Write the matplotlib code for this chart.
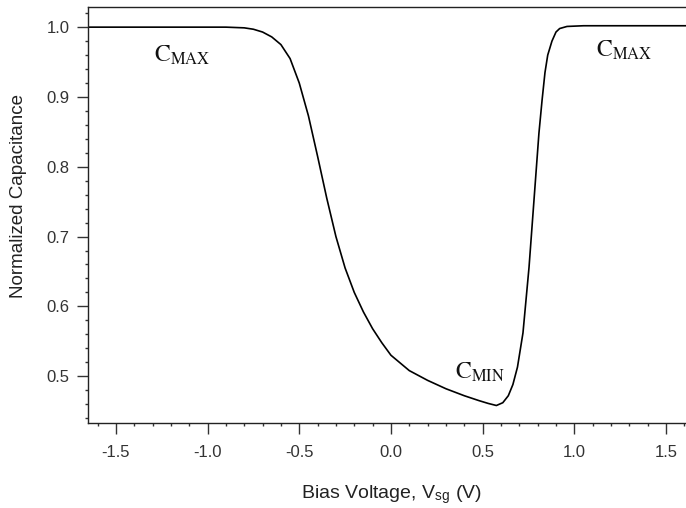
import matplotlib.pyplot as plt
from matplotlib.ticker import MultipleLocator

plt.rcParams['font.family'] = ['Liberation Sans', 'DejaVu Sans']
plt.rcParams['mathtext.fontset'] = 'stix'

# C-V curve
bias_v = [-1.653, -1.2, -0.9, -0.8, -0.75, -0.7, -0.65, -0.6, -0.55, -0.5,
          -0.45, -0.4, -0.35, -0.3, -0.25, -0.2, -0.15, -0.1, -0.05, 0.0,
          0.1, 0.2, 0.3, 0.4, 0.48, 0.53, 0.575, 0.61, 0.64, 0.665,
          0.69, 0.72, 0.753, 0.78, 0.807, 0.824, 0.84, 0.855, 0.878, 0.9,
          0.92, 0.96, 1.05, 1.609]
cap_norm = [1.0, 1.0, 1.0, 0.999, 0.997, 0.993, 0.986, 0.975, 0.955, 0.92,
            0.873, 0.815, 0.755, 0.70, 0.655, 0.62, 0.592, 0.568, 0.548, 0.53,
            0.508, 0.494, 0.482, 0.472, 0.465, 0.461, 0.458, 0.462, 0.472, 0.488,
            0.513, 0.562, 0.656, 0.752, 0.848, 0.895, 0.935, 0.96, 0.98, 0.993,
            0.998, 1.001, 1.002, 1.002]

labels = [r'$\mathrm{C}_{\mathrm{MAX}}$', r'$\mathrm{C}_{\mathrm{MAX}}$',
          r'$\mathrm{C}_{\mathrm{MIN}}$']
label_x = [-1.29, 1.12, 0.35]
label_y = [0.96, 0.967, 0.505]

fig = plt.figure(figsize=(6.86, 5.08), dpi=100)
ax = fig.add_axes([0.128, 0.167, 0.872, 0.819])

ax.plot(bias_v, cap_norm, color='black', lw=1.2)

for t, x, y in zip(labels, label_x, label_y):
    ax.text(x, y, t, fontsize=17, color='#111111', va='center', ha='left')

ax.set_xlim(-1.653, 1.609)
ax.set_ylim(0.4327, 1.0287)
ax.spines['right'].set_visible(False)
for s in ['left', 'bottom', 'top']:
    ax.spines[s].set_linewidth(1.0)
    ax.spines[s].set_color('#222222')

ax.xaxis.set_major_locator(MultipleLocator(0.5))
ax.xaxis.set_minor_locator(MultipleLocator(0.1))
ax.yaxis.set_major_locator(MultipleLocator(0.1))
ax.yaxis.set_minor_locator(MultipleLocator(0.02))
ax.tick_params(which='major', direction='out', length=8, width=1.0,
               colors='#333333', labelsize=12)
ax.tick_params(axis='x', which='major', pad=8)
ax.tick_params(axis='y', which='major', pad=5)
ax.tick_params(which='minor', direction='out', length=2.5, width=1.0,
               colors='#333333')
ax.xaxis.set_major_formatter(plt.FuncFormatter(lambda v, p: f'{v:.1f}'))
ax.yaxis.set_major_formatter(plt.FuncFormatter(lambda v, p: f'{v:.1f}'))

ax.set_xlabel(r'Bias Voltage, V$_\mathregular{sg}$ (V)', fontsize=14,
              color='#222222')
ax.set_ylabel('Normalized Capacitance', fontsize=13.5, color='#222222')
ax.xaxis.set_label_coords(0.508, -0.145)
ax.yaxis.set_label_coords(-0.102, 0.546)

fig.savefig('out.png', dpi=100)
